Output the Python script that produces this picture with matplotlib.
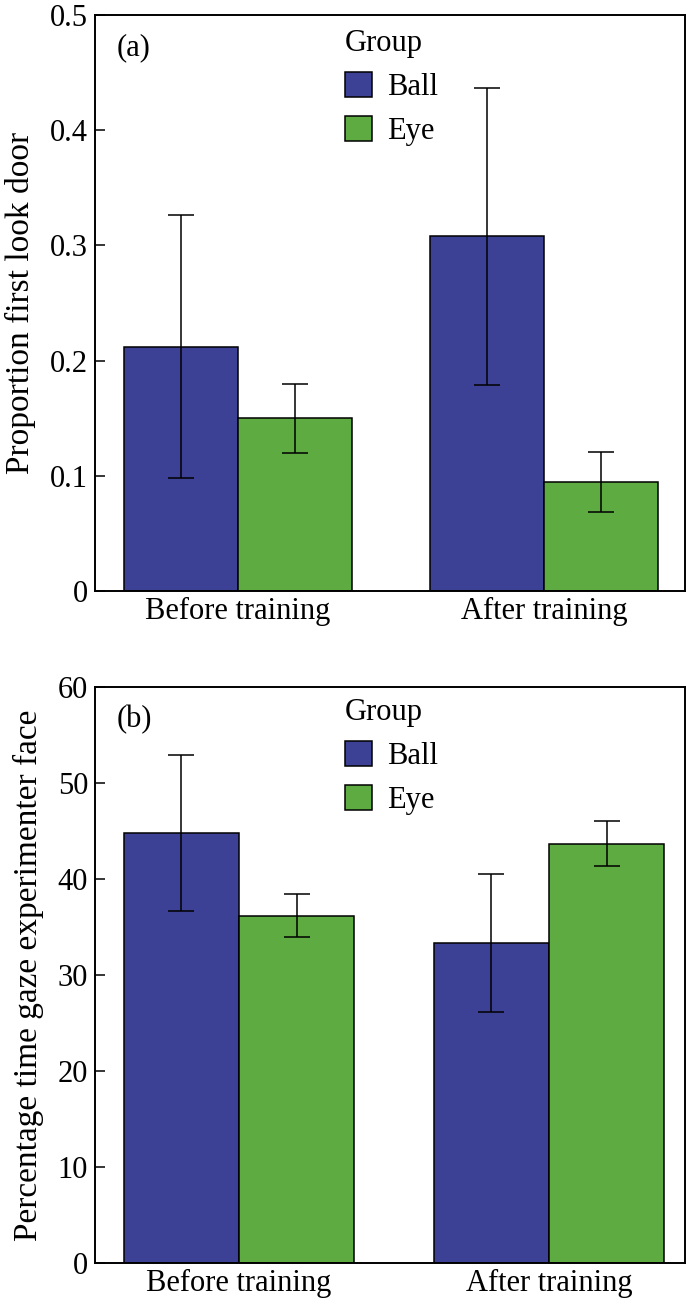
import numpy as np
import matplotlib
matplotlib.use('Agg')
import matplotlib.pyplot as plt

plt.rcParams['font.family'] = ['Liberation Serif', 'DejaVu Serif']

# data
phases = ['Before training', 'After training']
groups = ['Ball', 'Eye']
colors = ['#3c4196', '#5eab41']

# (a) proportion of first looks to the door
door_ball = [0.212, 0.308]
door_ball_se = [0.114, 0.129]
door_eye = [0.150, 0.095]
door_eye_se = [0.030, 0.026]
door_ticks = [0, 0.1, 0.2, 0.3, 0.4, 0.5]
door_ticklabels = ['0', '0.1', '0.2', '0.3', '0.4', '0.5']

# (b) percentage time gazing at experimenter face
face_ball = [44.8, 33.3]
face_ball_se = [8.1, 7.2]
face_eye = [36.2, 43.7]
face_eye_se = [2.2, 2.3]
face_ticks = [0, 10, 20, 30, 40, 50, 60]

FS = 22
width = 0.372

fig = plt.figure(figsize=(6.86, 13.01), dpi=100)
ax1 = fig.add_axes([0.1385, 0.5457, 0.8600, 0.4428])
ax2 = fig.add_axes([0.1385, 0.0292, 0.8600, 0.4427])


def draw_panel(ax, ball, ball_se, eye, eye_se, ticks, ticklabels, ylabel, tag, xlim, legend_y):
    x = np.arange(len(phases))
    err_kw = dict(ecolor='black', elinewidth=1.1, capsize=9.5, capthick=1.1)
    ax.bar(x - width / 2, ball, width, yerr=ball_se, color=colors[0],
           edgecolor='black', linewidth=1.1, label=groups[0], error_kw=err_kw)
    ax.bar(x + width / 2, eye, width, yerr=eye_se, color=colors[1],
           edgecolor='black', linewidth=1.1, label=groups[1], error_kw=err_kw)

    ax.set_xlim(*xlim)
    ax.set_ylim(ticks[0], ticks[-1])
    ax.set_xticks(x)
    ax.set_xticklabels(phases, fontsize=FS)
    ax.set_yticks(ticks)
    ax.set_yticklabels(ticklabels, fontsize=FS)
    ax.tick_params(axis='x', length=0, pad=4)
    ax.tick_params(axis='y', direction='in', length=7, width=1.1, pad=5)
    for s in ax.spines.values():
        s.set_linewidth(1.4)
    ax.set_ylabel(ylabel, fontsize=FS + 2, labelpad=10)

    ax.text(0.037, 0.943, tag, transform=ax.transAxes, fontsize=FS, va='center', ha='left')

    leg = ax.legend(title='Group', loc='upper left', bbox_to_anchor=(0.423, legend_y),
                    frameon=False, fontsize=FS, title_fontsize=FS,
                    handlelength=0.9, handleheight=0.9, handletextpad=0.5,
                    labelspacing=0.45, borderpad=0, borderaxespad=0,
                    alignment='left')
    return leg


draw_panel(ax1, door_ball, door_ball_se, door_eye, door_eye_se,
           door_ticks, door_ticklabels, 'Proportion first look door', '(a)',
           (-0.467, 1.461), 0.975)
draw_panel(ax2, face_ball, face_ball_se, face_eye, face_eye_se,
           face_ticks, [str(t) for t in face_ticks],
           'Percentage time gaze experimenter face', '(b)',
           (-0.4645, 1.4387), 0.981)

fig.savefig('out.png', dpi=100)
